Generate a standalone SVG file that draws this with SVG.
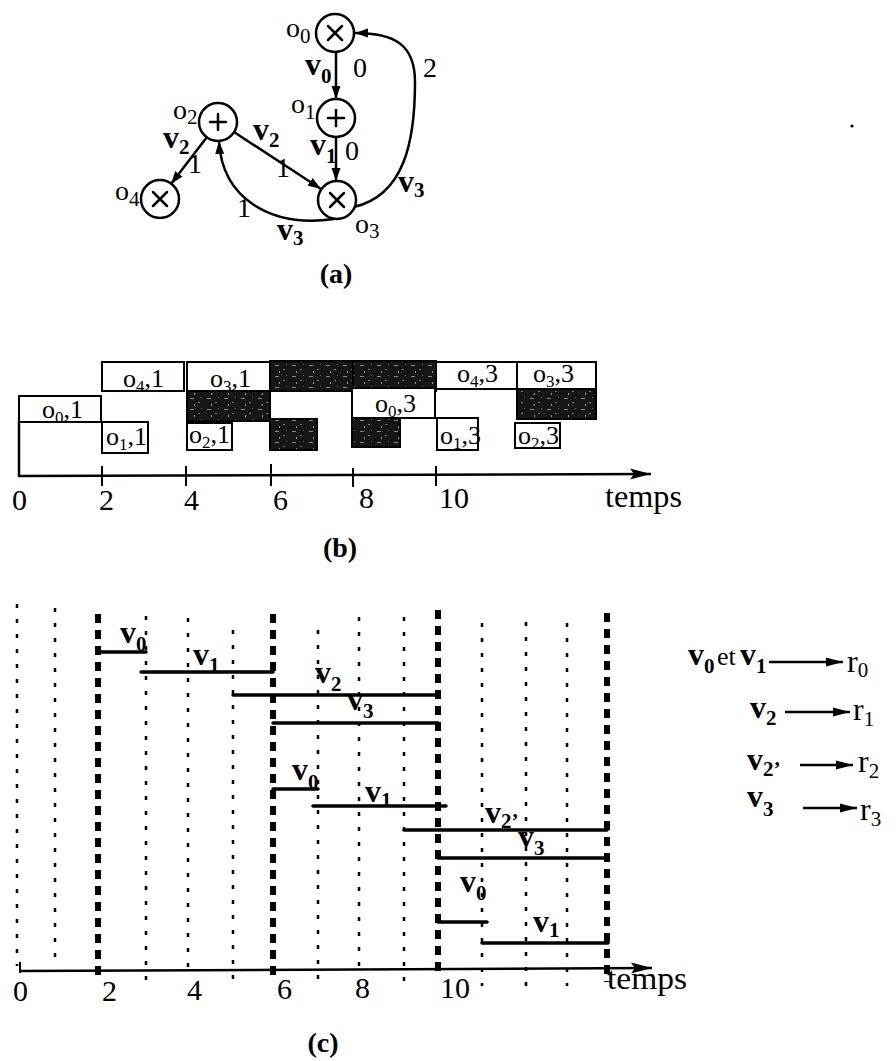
<svg xmlns="http://www.w3.org/2000/svg" width="896" height="1061" viewBox="0 0 896 1061">
<defs>
<style>
text{font-family:"Liberation Serif","Times New Roman",serif;fill:#000}
.node{fill:#fff;stroke:#000;stroke-width:2.5}
.op{stroke:#000;stroke-width:2.5;fill:none;stroke-linecap:round}
.edge{stroke:#000;stroke-width:2.5;fill:none}
.lbl{font-size:28px}
.bv{font-size:32px;font-weight:bold}
.sub{font-size:21px}
.box{fill:#fff;stroke:#000;stroke-width:2}
.dark{fill:url(#noise);stroke:#000;stroke-width:2}
.bt{font-size:26px}
.bs{font-size:17px}
.axis{stroke:#000;stroke-width:2.5;fill:none}
.tick{stroke:#000;stroke-width:2}
.num{font-size:30px}
.thin{stroke:#000;stroke-width:2.5;stroke-dasharray:4 11}
.thick{stroke:#000;stroke-width:6;stroke-dasharray:9 7}
.bar{stroke:#000;stroke-width:3.5;stroke-linecap:round}
.cap{font-size:28px;font-weight:bold;text-anchor:middle}
.rv{font-size:32px}
</style>
<marker id="ah" markerWidth="14" markerHeight="10" refX="13" refY="5" orient="auto" markerUnits="userSpaceOnUse"><path d="M0,0.5 L13,5 L0,9.5 z" fill="#000"/></marker>
<marker id="axh" markerWidth="22" markerHeight="12" refX="21" refY="6" orient="auto" markerUnits="userSpaceOnUse"><path d="M0,0.5 L21,6 L0,11.5 L4,6 z" fill="#000"/></marker>
<marker id="lh" markerWidth="18" markerHeight="10" refX="17" refY="5" orient="auto" markerUnits="userSpaceOnUse"><path d="M0,0.5 L17,5 L0,9.5 z" fill="#000"/></marker>
<pattern id="noise" width="17" height="11" patternUnits="userSpaceOnUse"><rect width="17" height="11" fill="#161616"/><rect x="3" y="2" width="4" height="1" fill="#8a8a8a"/><rect x="11" y="6" width="2" height="1" fill="#7a7a7a"/><rect x="7" y="8" width="1" height="2" fill="#999"/><rect x="14" y="1" width="1" height="1" fill="#666"/></pattern>
</defs>

<!-- (a) graph -->
<g id="connectors">
  <line class="edge" x1="336" y1="52" x2="336" y2="99" marker-end="url(#ah)"/>
  <line class="edge" x1="336" y1="137" x2="336" y2="181" marker-end="url(#ah)"/>
  <line class="edge" x1="234" y1="132" x2="321" y2="189" marker-end="url(#ah)"/>
  <line class="edge" x1="207" y1="137" x2="171" y2="184" marker-end="url(#ah)"/>
  <path class="edge" d="M334 219 C270 228 222 198 219 141" marker-end="url(#ah)"/>
  <path class="edge" d="M354 207 C405 195 415 140 415 82 C415 45 395 33 355 33" marker-end="url(#ah)"/>
  <text class="bv" x="305" y="75">v<tspan class="sub" dy="8">0</tspan></text>
  <text class="lbl" x="353" y="77">0</text>
  <text class="bv" x="310" y="155">v<tspan class="sub" dy="8">1</tspan></text>
  <text class="lbl" x="345" y="160">0</text>
  <text class="bv" x="253" y="140">v<tspan class="sub" dy="7">2</tspan></text>
  <text class="lbl" x="276" y="177">1</text>
  <text class="bv" x="163" y="148">v<tspan class="sub" dy="6">2</tspan></text>
  <text class="lbl" x="188" y="173">1</text>
  <text class="bv" x="398" y="192">v<tspan class="sub" dy="5">3</tspan></text>
  <text class="lbl" x="423" y="77">2</text>
  <text class="bv" x="277" y="240">v<tspan class="sub" dy="5">3</tspan></text>
  <text class="lbl" x="237" y="217">1</text>
</g>
<g id="node-o0">
  <circle class="node" cx="335" cy="33" r="19"/>
  <path class="op" d="M328 26 L342 40 M342 26 L328 40"/>
  <text class="lbl" x="286" y="37">o<tspan class="sub" dy="6">0</tspan></text>
</g>
<g id="node-o1">
  <circle class="node" cx="336" cy="118" r="19"/>
  <path class="op" d="M336 110 L336 126 M328 118 L344 118"/>
  <text class="lbl" x="291" y="113">o<tspan class="sub" dy="6">1</tspan></text>
</g>
<g id="node-o2">
  <circle class="node" cx="218" cy="122" r="19"/>
  <path class="op" d="M218 114 L218 130 M210 122 L226 122"/>
  <text class="lbl" x="173" y="119">o<tspan class="sub" dy="5">2</tspan></text>
</g>
<g id="node-o3">
  <circle class="node" cx="337" cy="200" r="19"/>
  <path class="op" d="M330 193 L344 207 M344 193 L330 207"/>
  <text class="lbl" x="355" y="233">o<tspan class="sub" dy="5">3</tspan></text>
</g>
<g id="node-o4">
  <circle class="node" cx="160" cy="199" r="19"/>
  <path class="op" d="M153 192 L167 206 M167 192 L153 206"/>
  <text class="lbl" x="115" y="200">o<tspan class="sub" dy="6">4</tspan></text>
</g>
<text class="cap" x="336" y="283">(a)</text>
<circle cx="852" cy="126" r="1.6" fill="#000"/>

<!-- (b) schedule -->
<g id="gantt">
  <g id="b-o41"><rect class="box" x="102" y="362" width="82" height="29"/><text class="bt" x="123" y="387">o<tspan class="bs" dy="5">4</tspan><tspan dy="-5">,1</tspan></text></g>
  <g id="b-o31"><rect class="box" x="187" y="362" width="83" height="29"/><text class="bt" x="210" y="387">o<tspan class="bs" dy="5">3</tspan><tspan dy="-5">,1</tspan></text></g>
  <g id="b-d1"><rect class="dark" x="270" y="361" width="83" height="30"/></g>
  <g id="b-d2"><rect class="dark" x="353" y="361" width="83" height="30"/></g>
  <g id="b-o43"><rect class="box" x="436" y="362" width="81" height="27"/><text class="bt" x="457" y="382">o<tspan class="bs" dy="5">4</tspan><tspan dy="-5">,3</tspan></text></g>
  <g id="b-o33"><rect class="box" x="517" y="362" width="79" height="27"/><text class="bt" x="533" y="382">o<tspan class="bs" dy="5">3</tspan><tspan dy="-5">,3</tspan></text></g>

  <g id="b-o01"><rect class="box" x="19" y="396" width="82" height="26"/><text class="bt" x="42" y="418">o<tspan class="bs" dy="5">0</tspan><tspan dy="-5">,1</tspan></text></g>
  <g id="b-d3"><rect class="dark" x="187" y="391" width="83" height="30"/></g>
  <g id="b-o03"><rect class="box" x="352" y="388" width="83" height="30"/><text class="bt" x="375" y="412">o<tspan class="bs" dy="5">0</tspan><tspan dy="-5">,3</tspan></text></g>
  <g id="b-d4"><rect class="dark" x="517" y="389" width="79" height="30"/></g>

  <g id="b-o11"><rect class="box" x="102" y="422" width="46" height="31"/><text class="bt" x="106" y="445">o<tspan class="bs" dy="5">1</tspan><tspan dy="-5">,1</tspan></text></g>
  <g id="b-o21"><rect class="box" x="187" y="423" width="45" height="27"/><text class="bt" x="189" y="443">o<tspan class="bs" dy="5">2</tspan><tspan dy="-5">,1</tspan></text></g>
  <g id="b-d5"><rect class="dark" x="270" y="419" width="47" height="31"/></g>
  <g id="b-d6"><rect class="dark" x="352" y="418" width="48" height="29"/></g>
  <g id="b-o13"><rect class="box" x="437" y="418" width="41" height="32"/><text class="bt" x="440" y="444">o<tspan class="bs" dy="5">1</tspan><tspan dy="-5">,3</tspan></text></g>
  <g id="b-o23"><rect class="box" x="515" y="423" width="45" height="25"/><text class="bt" x="518" y="444">o<tspan class="bs" dy="5">2</tspan><tspan dy="-5">,3</tspan></text></g>
</g>
<g id="axis-b">
  <line class="axis" x1="19" y1="421" x2="19" y2="477"/>
  <line class="axis" x1="19" y1="476" x2="651" y2="474" marker-end="url(#axh)"/>
  <line class="tick" x1="102" y1="466" x2="102" y2="486"/>
  <line class="tick" x1="186" y1="466" x2="186" y2="486"/>
  <line class="tick" x1="271" y1="464" x2="271" y2="486"/>
  <line class="tick" x1="353" y1="468" x2="353" y2="487"/>
  <line class="tick" x1="436" y1="466" x2="436" y2="486"/>
  <text class="num" x="12" y="510">0</text>
  <text class="num" x="99" y="510">2</text>
  <text class="num" x="184" y="510">4</text>
  <text class="num" x="273" y="510">6</text>
  <text class="num" x="359" y="508">8</text>
  <text class="num" x="439" y="508">10</text>
  <text x="605" y="507" font-size="32" textLength="77" lengthAdjust="spacingAndGlyphs">temps</text>
</g>
<text class="cap" x="340" y="557">(b)</text>

<!-- (c) register lifetimes -->
<g id="grid-c">
  <line class="thin" x1="17" y1="604" x2="17" y2="966"/>
  <line class="thin" x1="55" y1="608" x2="55" y2="966"/>
  <line class="thick" x1="98" y1="614" x2="98" y2="975"/>
  <line class="thin" x1="146" y1="616" x2="146" y2="986"/>
  <line class="thin" x1="188" y1="618" x2="188" y2="972"/>
  <line class="thin" x1="233" y1="630" x2="233" y2="986"/>
  <line class="thick" x1="273" y1="614" x2="273" y2="975"/>
  <line class="thin" x1="318" y1="630" x2="318" y2="986"/>
  <line class="thin" x1="359" y1="617" x2="359" y2="966"/>
  <line class="thin" x1="404" y1="617" x2="404" y2="986"/>
  <line class="thick" x1="438" y1="610" x2="438" y2="975"/>
  <line class="thin" x1="482" y1="623" x2="482" y2="986"/>
  <line class="thin" x1="526" y1="622" x2="526" y2="986"/>
  <line class="thin" x1="567" y1="623" x2="567" y2="986"/>
  <line class="thick" x1="607" y1="613" x2="607" y2="982"/>
</g>
<g id="bars-c">
  <g id="c-v0a"><line class="bar" x1="98" y1="652" x2="146" y2="652"/><text class="bv" x="120" y="643">v<tspan class="sub" dy="8">0</tspan></text></g>
  <g id="c-v1a"><line class="bar" x1="141" y1="672" x2="273" y2="672"/><text class="bv" x="193" y="665">v<tspan class="sub" dy="7">1</tspan></text></g>
  <g id="c-v2a"><line class="bar" x1="233" y1="695" x2="438" y2="695"/><text class="bv" x="315" y="683">v<tspan class="sub" dy="8">2</tspan></text></g>
  <g id="c-v3a"><line class="bar" x1="273" y1="723" x2="438" y2="723"/><text class="bv" x="347" y="710">v<tspan class="sub" dy="8">3</tspan></text></g>
  <g id="c-v0b"><line class="bar" x1="273" y1="789" x2="318" y2="789"/><text class="bv" x="292" y="780">v<tspan class="sub" dy="9">0</tspan></text></g>
  <g id="c-v1b"><line class="bar" x1="313" y1="806" x2="446" y2="806"/><text class="bv" x="365" y="802">v<tspan class="sub" dy="5">1</tspan></text></g>
  <g id="c-v2p"><line class="bar" x1="404" y1="830" x2="607" y2="830"/><text class="bv" x="485" y="823">v<tspan class="sub" dy="5">2’</tspan></text></g>
  <g id="c-v3b"><line class="bar" x1="438" y1="858" x2="607" y2="858"/><text class="bv" x="518" y="847">v<tspan class="sub" dy="8">3</tspan></text></g>
  <g id="c-v0c"><line class="bar" x1="438" y1="922" x2="487" y2="922"/><text class="bv" x="460" y="892">v<tspan class="sub" dy="8">0</tspan></text></g>
  <g id="c-v1c"><line class="bar" x1="482" y1="943" x2="608" y2="943"/><text class="bv" x="533" y="932">v<tspan class="sub" dy="5">1</tspan></text></g>
</g>
<g id="axis-c">
  <line class="axis" x1="20" y1="971" x2="652" y2="968" marker-end="url(#axh)"/>
  <line class="tick" x1="20" y1="962" x2="20" y2="973"/>
  <text class="num" x="13" y="1001" font-size="32">0</text>
  <text class="num" x="102" y="1001" font-size="32">2</text>
  <text class="num" x="187" y="1000" font-size="32">4</text>
  <text class="num" x="277" y="999" font-size="32">6</text>
  <text class="num" x="355" y="998" font-size="32">8</text>
  <text class="num" x="440" y="998" font-size="32">10</text>
  <text x="607" y="989" font-size="32" textLength="80" lengthAdjust="spacingAndGlyphs">temps</text>
</g>
<text class="cap" x="323" y="1052">(c)</text>

<g id="legend">
  <g id="leg-r0">
    <text class="bv" x="688" y="665" font-size="30">v<tspan class="sub" dy="8">0</tspan></text>
    <text x="717" y="665" font-size="26">et</text>
    <text class="bv" x="740" y="665" font-size="30">v<tspan class="sub" dy="8">1</tspan></text>
    <line class="edge" x1="769" y1="662" x2="843" y2="662" marker-end="url(#lh)"/>
    <text class="rv" x="847" y="672">r<tspan class="sub" dy="5">0</tspan></text>
  </g>
  <g id="leg-r1">
    <text class="bv" x="750" y="718">v<tspan class="sub" dy="7">2</tspan></text>
    <line class="edge" x1="785" y1="712" x2="850" y2="712" marker-end="url(#lh)"/>
    <text class="rv" x="853" y="720">r<tspan class="sub" dy="6">1</tspan></text>
  </g>
  <g id="leg-r2">
    <text class="bv" x="747" y="770">v<tspan class="sub" dy="6">2’</tspan></text>
    <line class="edge" x1="800" y1="765" x2="853" y2="765" marker-end="url(#lh)"/>
    <text class="rv" x="858" y="772">r<tspan class="sub" dy="6">2</tspan></text>
  </g>
  <g id="leg-r3">
    <text class="bv" x="747" y="807">v<tspan class="sub" dy="9">3</tspan></text>
    <line class="edge" x1="803" y1="808" x2="857" y2="808" marker-end="url(#lh)"/>
    <text class="rv" x="860" y="820">r<tspan class="sub" dy="6">3</tspan></text>
  </g>
</g>
</svg>
